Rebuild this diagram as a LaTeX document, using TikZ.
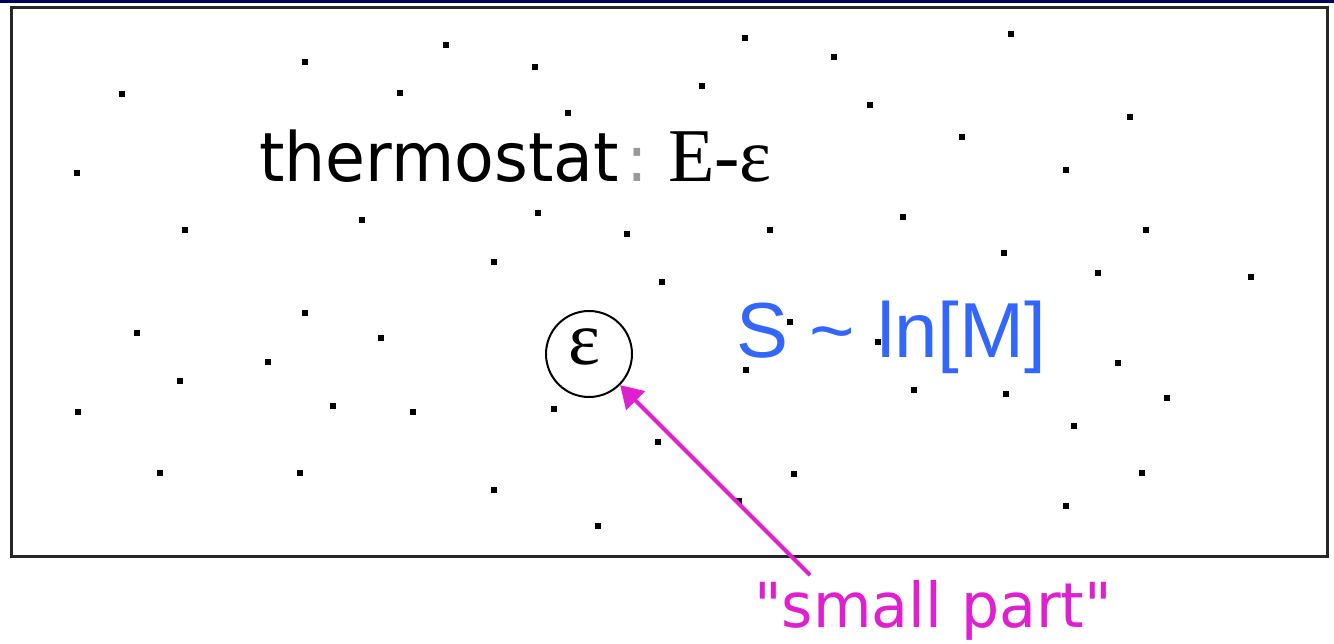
\documentclass[tikz,border=0pt]{standalone}
\usepackage{fontspec}
\usepackage{graphicx}
\usetikzlibrary{arrows.meta}
\newfontfamily\dejavu{DejaVu Sans}
\newfontfamily\libsans{Liberation Sans}
\newfontfamily\libserif{Liberation Serif}
\definecolor{navy}{RGB}{0,0,96}
\definecolor{magpink}{RGB}{224,32,208}
\definecolor{sblue}{RGB}{51,102,255}
\begin{document}
\begin{tikzpicture}[x=1pt,y=-1pt,
  dot/.style={rectangle,fill=black,inner sep=0pt,minimum size=6pt},
  lbl/.style={inner sep=0pt,anchor=base west},
  frame/.style={draw=black!85,line width=3pt},
  pointer/.style={draw=magpink,line width=4pt,-{Triangle[length=22pt,width=26pt]}}]
\useasboundingbox[fill=white] (0,0) rectangle (1334,644);
\fill[navy] (0,0) rectangle (1334,3);
\draw[frame] (11.5,8) rectangle (1327.5,556.5);
% dots
\foreach \x/\y [count=\i] in {446/45,745/38,1011/34,834/57,305/62,535/67,122/94,400/93,702/86,568/113,870/105,1130/117,962/137,77/173,1066/170,185/230,362/220,538/213,627/234,770/230,903/217,1146/230,494/262,1004/253,662/282,1098/273,1251/277,305/313,137/333,381/338,790/322,878/342,180/381,268/362,746/370,1118/363,914/390,1006/394,1167/398,78/412,333/406,413/412,554/409,658/442,1074/426,160/473,300/473,794/474,1142/473,494/490,739/501,1066/506,598/526}
  \node[dot] (d\i) at (\x,\y) {};
% texts
\node[lbl] (thermo) at (259,182) {\scalebox{0.955}[1]{\dejavu\fontsize{68}{68}\selectfont thermostat}};
\node[inner sep=0pt,anchor=base] (colon) at (637,182) {\dejavu\fontsize{64}{64}\selectfont\color{black!40}:};
\node[lbl] (energy) at (668,182) {\libserif\fontsize{76}{76}\selectfont E-ε};
\node[lbl] (entropy) at (736,358) {\libsans\fontsize{78}{78}\selectfont\color{sblue}S \char"007E{} ln[M]};
\node[draw=black,line width=2pt,circle,minimum size=86pt,inner sep=0pt] (eps) at (589,354) {};
\node[inner sep=0pt,anchor=base] (epslbl) at (584,365) {\libserif\fontsize{76}{76}\selectfont ε};
\node[lbl] (small) at (754,627) {\scalebox{0.97}[1]{\dejavu\fontsize{62}{62}\selectfont\color{magpink}"small part"}};
\coordinate (tail) at (810,575);
\draw[pointer] (tail) -- (eps);
\end{tikzpicture}
\end{document}
